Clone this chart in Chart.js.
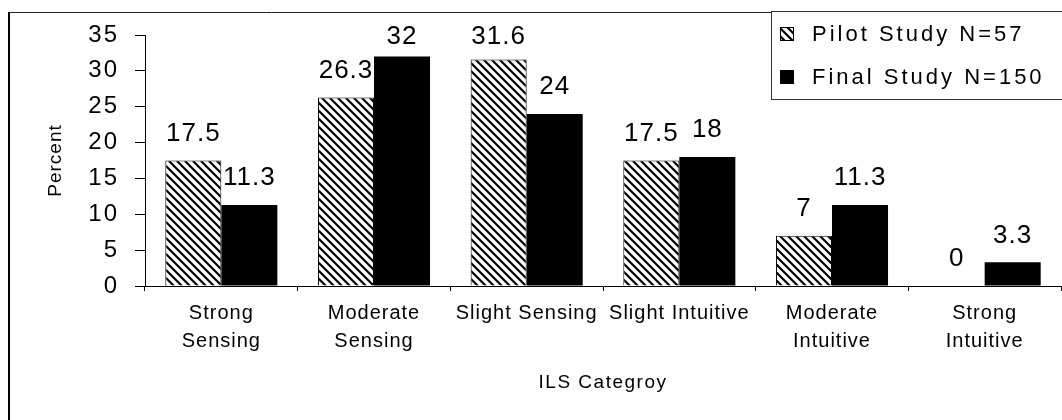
<!DOCTYPE html>
<html>
<head>
<meta charset="utf-8">
<title>ILS Category</title>
<script src="https://cdn.jsdelivr.net/npm/chart.js@4.4.1/dist/chart.umd.min.js"></script>
<style>
  html, body { margin: 0; padding: 0; background: #fff; overflow: hidden; }
  #wrap { position: relative; width: 1062px; height: 420px; }
</style>
</head>
<body>
<div id="wrap"><canvas id="chart-ils"></canvas></div>
<script>
// chart data
const categories = [['Strong', 'Sensing'], ['Moderate', 'Sensing'], 'Slight Sensing', 'Slight Intuitive', ['Moderate', 'Intuitive'], ['Strong', 'Intuitive']];
const seriesNames = ['Pilot Study N=57', 'Final Study N=150'];
const pilotValues = [17.5, 26.3, 31.6, 17.5, 7, 0];
const finalValues = [11.3, 32, 24, 18, 11.3, 3.3];
const yMin = 0, yMax = 35, yStep = 5;

const FONT = '"Liberation Sans", Arial, sans-serif';

// backslash hatch used for the pilot bars
function makeHatch() {
  const p = document.createElement('canvas');
  p.width = 8; p.height = 8;
  const c = p.getContext('2d');
  c.fillStyle = '#fff';
  c.fillRect(0, 0, 8, 8);
  c.strokeStyle = '#000';
  c.lineWidth = 2.2;
  c.beginPath();
  c.moveTo(-2, -2); c.lineTo(10, 10);
  c.moveTo(-2, 6); c.lineTo(2, 10);
  c.moveTo(6, -2); c.lineTo(10, 2);
  c.stroke();
  return c.createPattern(p, 'repeat');
}
const hatch = makeHatch();

function spaced(ctx, px, fn) {
  const prev = ctx.letterSpacing;
  ctx.letterSpacing = px + 'px';
  fn();
  ctx.letterSpacing = prev || '0px';
}

// frame, letter spacing for axis text (the scan is a bit stretched)
const framePlugin = {
  id: 'frame',
  beforeDraw(chart) {
    const ctx = chart.ctx;
    ctx.save();
    ctx.strokeStyle = '#222';
    ctx.lineWidth = 1;
    ctx.beginPath();
    ctx.moveTo(8, 12.5); ctx.lineTo(chart.width, 12.5);
    ctx.stroke();
    ctx.strokeStyle = '#000';
    ctx.lineWidth = 2;
    ctx.beginPath();
    ctx.moveTo(9, 12); ctx.lineTo(9, chart.height);
    ctx.stroke();
    ctx.restore();

    const sp = { x: [1, 1.5], y: [2, 1] }; // [labels, title]
    for (const id of ['x', 'y']) {
      const s = chart.scales[id];
      if (!s || s._spaced) continue;
      const dl = s.drawLabels, dt = s.drawTitle;
      s.drawLabels = function (a) { spaced(ctx, sp[id][0], () => dl.call(this, a)); };
      s.drawTitle = function () { spaced(ctx, sp[id][1], () => dt.call(this)); };
      s._spaced = true;
    }
  }
};

// numbers above the bars
const valueLabels = {
  id: 'valueLabels',
  afterDatasetsDraw(chart) {
    const ctx = chart.ctx;
    ctx.save();
    ctx.font = '26px ' + FONT;
    ctx.fillStyle = '#000';
    ctx.textAlign = 'center';
    ctx.textBaseline = 'middle';
    chart.data.datasets.forEach((ds, i) => {
      chart.getDatasetMeta(i).data.forEach((bar, j) => {
        const y = Math.max(bar.y - 27, 37);
        spaced(ctx, 1, () => ctx.fillText(String(ds.data[j]), bar.x, y));
      });
    });
    ctx.restore();
  }
};

// boxed legend sitting over the top right corner
const boxLegend = {
  id: 'boxLegend',
  afterDraw(chart) {
    const ctx = chart.ctx;
    ctx.save();
    ctx.fillStyle = '#fff';
    ctx.fillRect(771, 11, chart.width - 771, 88);
    ctx.strokeStyle = '#333';
    ctx.lineWidth = 1;
    ctx.strokeRect(771.5, 11.5, chart.width, 88);
    ctx.font = '22px ' + FONT;
    ctx.textBaseline = 'middle';
    ctx.textAlign = 'left';
    const rows = [34, 77];
    chart.data.datasets.forEach((ds, i) => {
      const cy = rows[i];
      ctx.fillStyle = ds.backgroundColor;
      ctx.fillRect(780, cy - 7, 14, 14);
      ctx.strokeStyle = '#000';
      ctx.strokeRect(780.5, cy - 6.5, 13, 13);
      ctx.fillStyle = '#000';
      spaced(ctx, 3, () => ctx.fillText(ds.label, 812, cy + 1));
    });
    ctx.restore();
  }
};

const ctx = document.getElementById('chart-ils').getContext('2d');
new Chart(ctx, {
  type: 'bar',
  data: {
    labels: categories,
    datasets: [
      { label: seriesNames[0], data: pilotValues, backgroundColor: hatch, borderColor: '#000', borderWidth: 1 },
      { label: seriesNames[1], data: finalValues, backgroundColor: '#000', borderColor: '#000', borderWidth: 0 }
    ]
  },
  options: {
    responsive: true,
    maintainAspectRatio: false,
    animation: false,
    events: [],
    layout: { padding: { left: 0, right: 1, top: 35, bottom: 0 } },
    datasets: { bar: { categoryPercentage: 0.734, barPercentage: 1 } },
    plugins: { legend: { display: false }, tooltip: { enabled: false } },
    scales: {
      x: {
        grid: { display: true, drawOnChartArea: false, drawTicks: true, tickLength: 5, color: '#000', offset: true },
        border: { display: true, color: '#000', width: 1 },
        ticks: { color: '#000', font: { family: FONT, size: 20, lineHeight: 1.4 }, padding: 8, maxRotation: 0, autoSkip: false },
        title: { display: true, text: 'ILS Categroy', color: '#000', font: { family: FONT, size: 19, lineHeight: 1.2 }, padding: { top: 0, bottom: 26 } },
        afterFit(scale) { scale.height = 134; }
      },
      y: {
        min: yMin,
        max: yMax,
        grid: { display: true, drawOnChartArea: false, drawTicks: true, tickLength: 10, color: '#000' },
        border: { display: true, color: '#000', width: 1 },
        ticks: { stepSize: yStep, color: '#000', font: { family: FONT, size: 24 }, padding: 16 },
        title: { display: true, text: 'Percent', color: '#000', font: { family: FONT, size: 19, lineHeight: 1.2 }, padding: { top: 44, bottom: 0 } },
        afterFit(scale) { scale.width = 145; }
      }
    }
  },
  plugins: [framePlugin, valueLabels, boxLegend]
});
</script>
</body>
</html>
